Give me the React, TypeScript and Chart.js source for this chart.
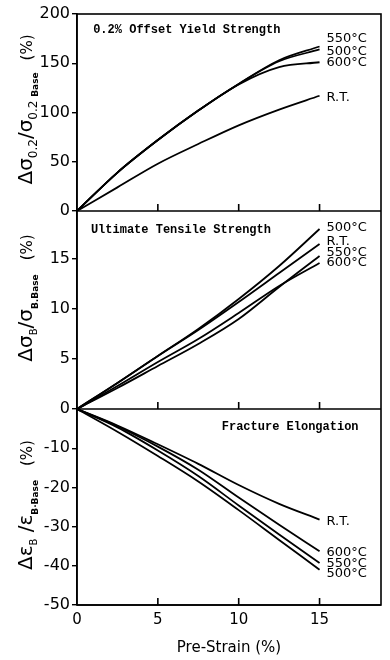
import React, { useEffect, useRef } from 'react';
import { Chart, registerables } from 'chart.js';

Chart.register(...registerables);

// ---------- data ----------
const preStrain = [0, 2.5, 5, 7.5, 10, 12.5, 15];
const xTickValues = [0, 5, 10, 15];
const innerTickValues = [5, 10, 15];

// Panel 1: 0.2% offset yield strength (%)
const yield550 = [0, 39, 72, 102, 129, 153, 167];
const yield500 = [0, 39, 72, 102, 129, 152, 164];
const yield600 = [0, 39, 72, 102, 128.5, 146, 151];
const yieldRT = [0, 24, 48, 68, 87, 103, 117];
const yieldTicks = [0, 50, 100, 150, 200];

// Panel 2: ultimate tensile strength (%)
const uts500 = [0, 2.6, 5.3, 8.0, 11.0, 14.3, 18.0];
const utsRT = [0, 2.6, 5.3, 7.9, 10.7, 13.6, 16.5];
const uts550 = [0, 2.1, 4.3, 6.5, 9.0, 12.2, 15.3];
const uts600 = [0, 2.3, 4.7, 7.0, 9.6, 12.3, 14.6];
const utsTicks = [5, 10, 15];

// Panel 3: fracture elongation (%)
const elRT = [0, -4.2, -9.0, -14.0, -19.4, -24.2, -28.2];
const el600 = [0, -4.4, -9.6, -15.5, -22.6, -29.5, -36.3];
const el550 = [0, -4.7, -10.6, -17.1, -24.6, -32.0, -39.3];
const el500 = [0, -5.8, -12.0, -18.5, -25.8, -33.4, -41.0];
const elTicks = [0, -10, -20, -30, -40, -50];

// end-of-line label anchors (value space on each panel's axis)
const yieldLabels = [
  { text: '550°C', y: 174.6 },
  { text: '500°C', y: 161.4 },
  { text: '600°C', y: 150.3 },
  { text: 'R.T.', y: 114.7 },
];
const utsLabels = [
  { text: '500°C', y: 18.1 },
  { text: 'R.T.', y: 16.7 },
  { text: '550°C', y: 15.6 },
  { text: '600°C', y: 14.6 },
];
const elLabels = [
  { text: 'R.T.', y: -28.7 },
  { text: '600°C', y: -36.7 },
  { text: '550°C', y: -39.4 },
  { text: '500°C', y: -42.0 },
];

const panelTitles = [
  { axis: 'yTop', text: '0.2% Offset Yield Strength', x: 1.0, y: 183.8 },
  { axis: 'yMid', text: 'Ultimate Tensile Strength', x: 0.86, y: 17.9 },
  { axis: 'yBot', text: 'Fracture Elongation', x: 8.95, y: -4.6 },
];

const SANS = "'DejaVu Sans', sans-serif";
const MONO = "'Liberation Mono', 'DejaVu Sans Mono', monospace";

type Seg = { text: string; font: string; shift: number; gap?: number };

const yTitles: { axis: string; dy: number; segs: Seg[] }[] = [
  {
    axis: 'yTop',
    dy: -3,
    segs: [
      { text: 'Δσ', font: `20px ${SANS}`, shift: 0 },
      { text: '0.2', font: `12px ${SANS}`, shift: 5 },
      { text: '/σ', font: `20px ${SANS}`, shift: 0 },
      { text: '0.2 ', font: `12px ${SANS}`, shift: 5 },
      { text: 'Base', font: `bold 9px ${SANS}`, shift: 6 },
      { text: '(%)', font: `15px ${SANS}`, shift: 0, gap: 12 },
    ],
  },
  {
    axis: 'yMid',
    dy: -12,
    segs: [
      { text: 'Δσ', font: `20px ${SANS}`, shift: 0 },
      { text: 'B', font: `10px ${SANS}`, shift: 5 },
      { text: '/σ', font: `20px ${SANS}`, shift: 0 },
      { text: 'B.Base', font: `bold 9px ${SANS}`, shift: 6 },
      { text: '(%)', font: `15px ${SANS}`, shift: 0, gap: 14 },
    ],
  },
  {
    axis: 'yBot',
    dy: -2,
    segs: [
      { text: 'Δε', font: `20px ${SANS}`, shift: 0 },
      { text: 'B', font: `10px ${SANS}`, shift: 5 },
      { text: ' /ε', font: `20px ${SANS}`, shift: 0 },
      { text: 'B·Base', font: `bold 9px ${SANS}`, shift: 6 },
      { text: '(%)', font: `15px ${SANS}`, shift: 0, gap: 14 },
    ],
  },
];

const panels = [
  {
    axis: 'yTop',
    series: [yield550, yield500, yield600, yieldRT],
    labels: yieldLabels,
  },
  {
    axis: 'yMid',
    series: [uts500, utsRT, uts550, uts600],
    labels: utsLabels,
  },
  {
    axis: 'yBot',
    series: [elRT, el600, el550, el500],
    labels: elLabels,
  },
];

function drawRotated(ctx: CanvasRenderingContext2D, segs: Seg[], cx: number, cy: number) {
  let total = 0;
  const widths: number[] = [];
  for (const s of segs) {
    ctx.font = s.font;
    const w = ctx.measureText(s.text).width;
    widths.push(w);
    total += w + (s.gap || 0);
  }
  ctx.save();
  ctx.translate(cx, cy);
  ctx.rotate(-Math.PI / 2);
  ctx.textAlign = 'left';
  ctx.textBaseline = 'alphabetic';
  ctx.fillStyle = '#000';
  let pos = -total / 2;
  segs.forEach((s, i) => {
    pos += s.gap || 0;
    ctx.font = s.font;
    ctx.fillText(s.text, pos, s.shift);
    pos += widths[i];
  });
  ctx.restore();
}

const overlayPlugin = {
  id: 'overlay',
  afterDraw(chart: any) {
    const ctx: CanvasRenderingContext2D = chart.ctx;
    const { left, right, top, bottom } = chart.chartArea;
    const xs = chart.scales.x;
    ctx.save();
    ctx.strokeStyle = '#000';
    ctx.lineWidth = 1.6;
    ctx.strokeRect(left, top, right - left, bottom - top);

    for (const p of panels) {
      const s = chart.scales[p.axis];
      ctx.beginPath();
      ctx.moveTo(left, s.bottom);
      ctx.lineTo(right, s.bottom);
      for (const v of innerTickValues) {
        const px = xs.getPixelForValue(v);
        ctx.moveTo(px, s.bottom);
        ctx.lineTo(px, s.bottom - 7);
      }
      ctx.stroke();

      // end labels
      ctx.fillStyle = '#000';
      ctx.font = `13px ${SANS}`;
      ctx.textAlign = 'left';
      ctx.textBaseline = 'middle';
      const lx = xs.getPixelForValue(15) + 7;
      for (const l of p.labels) {
        ctx.fillText(l.text, lx, s.getPixelForValue(l.y));
      }
    }

    // panel titles
    ctx.font = `bold 12px ${MONO}`;
    ctx.textAlign = 'left';
    ctx.textBaseline = 'middle';
    for (const t of panelTitles) {
      const s = chart.scales[t.axis];
      ctx.fillText(t.text, xs.getPixelForValue(t.x), s.getPixelForValue(t.y));
    }

    // y-axis titles
    for (const t of yTitles) {
      const s = chart.scales[t.axis];
      drawRotated(ctx, t.segs, 32, (s.top + s.bottom) / 2 + t.dy);
    }
    ctx.restore();
  },
};

function yAxis(min: number, max: number, ticks: number[], weight: number) {
  return {
    type: 'linear' as const,
    position: 'left' as const,
    stack: 'panels',
    stackWeight: weight,
    min,
    max,
    afterBuildTicks: (scale: any) => {
      scale.ticks = ticks.map((v) => ({ value: v }));
    },
    afterFit: (scale: any) => {
      scale.width = 77;
    },
    grid: {
      drawOnChartArea: false,
      drawTicks: true,
      tickLength: 5,
      color: '#000',
      lineWidth: 1.4,
    },
    border: { display: true, color: '#000', width: 1.6 },
    ticks: {
      color: '#000',
      padding: 2,
      autoSkip: false,
      font: { family: SANS, size: 16 },
    },
  };
}

export default function App() {
  const ref = useRef<HTMLCanvasElement | null>(null);

  useEffect(() => {
    if (!ref.current) return;
    const datasets: any[] = [];
    panels.forEach((p) => {
      p.series.forEach((arr, i) => {
        datasets.push({
          label: p.labels[i] ? p.labels[i].text : '',
          data: preStrain.map((x, j) => ({ x, y: arr[j] })),
          yAxisID: p.axis,
          xAxisID: 'x',
          borderColor: '#000',
          borderWidth: 1.8,
          pointRadius: 0,
          fill: false,
          cubicInterpolationMode: 'monotone',
        });
      });
    });

    const chart = new Chart(ref.current, {
      type: 'line',
      data: { datasets },
      options: {
        responsive: false,
        animation: false,
        devicePixelRatio: 1,
        layout: { padding: { top: 14, right: 9, left: 0, bottom: 0 } },
        plugins: {
          legend: { display: false },
          tooltip: { enabled: false },
        },
        scales: {
          x: {
            type: 'linear',
            position: 'bottom',
            min: 0,
            max: 18.8,
            afterBuildTicks: (scale: any) => {
              scale.ticks = xTickValues.map((v) => ({ value: v }));
            },
            afterFit: (scale: any) => {
              scale.height = 55;
            },
            grid: { display: false, drawTicks: false },
            border: { display: false },
            ticks: {
              color: '#000',
              padding: 6,
              autoSkip: false,
              font: { family: SANS, size: 15 },
            },
            title: {
              display: true,
              text: 'Pre-Strain (%)',
              color: '#000',
              font: { family: SANS, size: 15 },
              padding: { top: 0, bottom: 3 },
            },
          },
          yBot: yAxis(-50, 0, elTicks, 196),
          yMid: yAxis(0, 19.8, utsTicks, 198),
          yTop: yAxis(0, 200, yieldTicks, 197),
        } as any,
      },
      plugins: [overlayPlugin],
    });
    return () => chart.destroy();
  }, []);

  return (
    <div style={{ position: 'absolute', left: 0, top: 0, width: 390, height: 660, background: '#fff' }}>
      <canvas ref={ref} width={390} height={660} style={{ display: 'block' }} />
    </div>
  );
}
